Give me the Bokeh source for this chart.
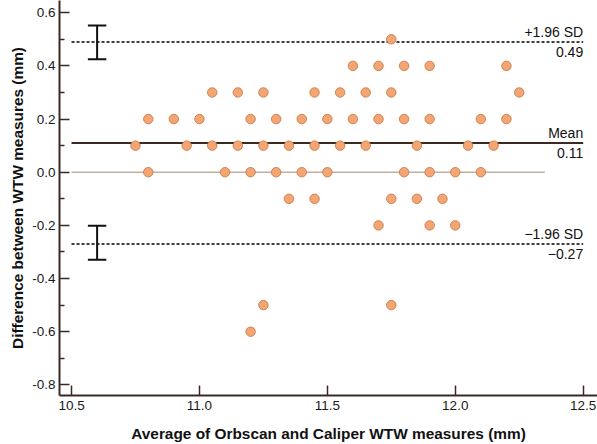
from bokeh.plotting import figure
from bokeh.models import Range1d, FixedTicker, ColumnDataSource
from bokeh.core.properties import value
from bokeh.embed import file_html
from bokeh.resources import INLINE

# ---- data ----
avg_mm = [
    11.75,
    11.6, 11.7, 11.8, 11.9, 12.2,
    11.05, 11.15, 11.25, 11.45, 11.55, 11.65, 11.75, 12.25,
    10.8, 10.9, 11.0, 11.2, 11.3, 11.4, 11.5, 11.6, 11.7, 11.8, 11.9, 12.1, 12.2,
    10.75, 10.95, 11.05, 11.15, 11.25, 11.35, 11.45, 11.55, 11.65, 11.85, 12.05, 12.15,
    10.8, 11.1, 11.2, 11.3, 11.4, 11.5, 11.8, 11.9, 12.0, 12.1,
    11.35, 11.45, 11.75, 11.85, 11.95,
    11.7, 11.9, 12.0,
    11.25, 11.75,
    11.2,
]
diff_mm = (
    [0.5]
    + [0.4] * 5
    + [0.3] * 8
    + [0.2] * 13
    + [0.1] * 12
    + [0.0] * 10
    + [-0.1] * 5
    + [-0.2] * 3
    + [-0.5] * 2
    + [-0.6] * 1
)

limit_names = ["+1.96 SD", "Mean", "\u22121.96 SD"]
limit_values = [0.49, 0.11, -0.27]
limit_value_labels = ["0.49", "0.11", "\u22120.27"]

ci_x = 10.6
ci_halfwidth = 0.036
upper_ci = [0.425, 0.552]
lower_ci = [-0.329, -0.201]

line_x_start = 10.5
line_x_end = 12.5
zero_x_end = 12.35

x_ticks = [10.5, 11.0, 11.5, 12.0, 12.5]
y_ticks = [-0.8, -0.6, -0.4, -0.2, 0.0, 0.2, 0.4, 0.6]
y_minor = [-0.7, -0.5, -0.3, -0.1, 0.1, 0.3, 0.5]

# ---- figure ----
AX = "#3b2a22"
FONT = "Liberation Sans"

p = figure(width=597, height=444, output_backend="svg", toolbar_location=None,
           x_range=Range1d(10.453, 12.556), y_range=Range1d(-0.84, 0.646),
           min_border_left=59, min_border_right=0, min_border_top=0,
           min_border_bottom=47,
           background_fill_color="white", border_fill_color="white")
p.outline_line_color = None
p.xgrid.visible = False
p.ygrid.visible = False

# zero line
p.line([line_x_start, zero_x_end], [0.0, 0.0], line_color="#c4b0a2", line_width=1.5)
# mean line
p.line([line_x_start, line_x_end], [limit_values[1]] * 2, line_color=AX, line_width=2)
# limits
for v in (limit_values[0], limit_values[2]):
    p.line([line_x_start, line_x_end], [v, v], line_color="black", line_width=1.5,
           line_dash="3 2")

# CI error bars
for lo, hi in (upper_ci, lower_ci):
    p.segment(x0=[ci_x], y0=[lo], x1=[ci_x], y1=[hi], line_color="#111111", line_width=2)
    p.segment(x0=[ci_x - ci_halfwidth] * 2, y0=[lo, hi],
              x1=[ci_x + ci_halfwidth] * 2, y1=[lo, hi],
              line_color="#111111", line_width=2)

# points
src = ColumnDataSource(dict(x=avg_mm, y=diff_mm))
p.scatter("x", "y", source=src, size=9.5, fill_color="#f4a574",
          line_color="#c4743f", line_width=0.8)

# annotations
tsrc = ColumnDataSource(dict(x=[line_x_end] * 3, y=limit_values,
                             name=limit_names, val=limit_value_labels))
p.text("x", "y", text="name", source=tsrc, text_align="right", text_baseline="bottom",
       y_offset=-2, text_font=value(FONT), text_font_size="14px", text_color="#111111")
p.text("x", "y", text="val", source=tsrc, text_align="right", text_baseline="top",
       y_offset=5, text_font=value(FONT), text_font_size="14px", text_color="#111111")

# axes
for ax in (p.xaxis[0], p.yaxis[0]):
    ax.axis_line_color = AX
    ax.axis_line_width = 2
    ax.major_tick_line_color = AX
    ax.minor_tick_line_color = AX
    ax.major_tick_line_width = 1.5
    ax.minor_tick_line_width = 1.5
    ax.major_tick_in = 10
    ax.major_tick_out = 0
    ax.major_label_text_font = FONT
    ax.major_label_text_font_size = "13.5px"
    ax.major_label_text_color = "#1a1a1a"
    ax.major_label_text_line_height = 1.0
    ax.axis_label_text_font = FONT
    ax.axis_label_text_font_size = "15.4px"
    ax.axis_label_text_font_style = "bold"
    ax.axis_label_text_color = "#111111"
    ax.axis_label_text_line_height = 1.0

p.xaxis.ticker = FixedTicker(ticks=x_ticks)
p.xaxis.minor_tick_in = 0
p.xaxis.minor_tick_out = 0
p.xaxis.axis_label = "Average of Orbscan and Caliper WTW measures (mm)"
p.xaxis.major_label_standoff = 5
p.xaxis.axis_label_standoff = 12
p.xaxis.major_label_overrides = {t: f"{t:.1f}" for t in x_ticks}

p.yaxis.ticker = FixedTicker(ticks=y_ticks, minor_ticks=y_minor)
p.yaxis.minor_tick_in = 5
p.yaxis.minor_tick_out = 0
p.yaxis.axis_label = "Difference between WTW measures (mm)"
p.yaxis.major_label_standoff = 4
p.yaxis.axis_label_standoff = 3
p.yaxis.major_label_overrides = {t: f"{t:.1f}" for t in y_ticks}

open("out.html", "w").write(file_html(p, INLINE))
